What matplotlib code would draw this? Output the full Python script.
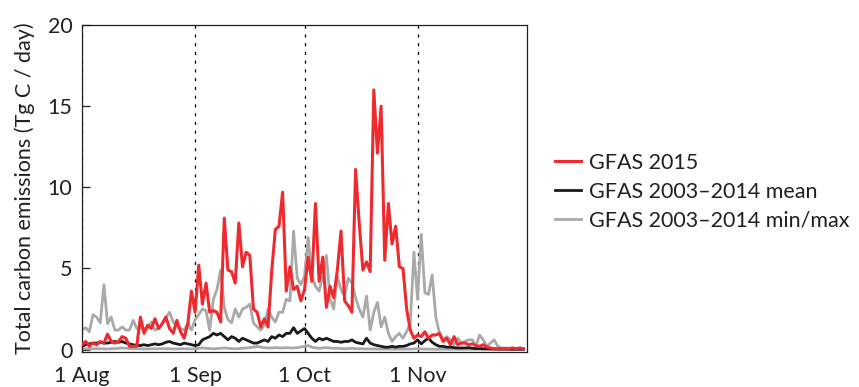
import matplotlib
matplotlib.use("Agg")
import matplotlib.pyplot as plt
import numpy as np

plt.rcParams['font.family'] = ['Lato', 'DejaVu Sans']

# Daily totals from 1 Aug to 30 Nov (day 0 = 1 Aug)
gfas_2015 = [
    0.3, 0.5, 0.2, 0.4, 0.3, 0.5, 0.4, 0.95, 0.5, 0.4,
    0.5, 0.8, 0.7, 0.2, 0.2, 0.2, 2.0, 1.0, 1.5, 1.3,
    1.9, 1.3, 1.6, 2.0, 1.3, 1.0, 1.8, 1.1, 0.7, 1.6,
    3.6, 2.3, 5.2, 2.8, 4.1, 2.3, 2.4, 2.3, 1.7, 8.1,
    4.9, 4.8, 4.1, 7.8, 5.1, 6.0, 5.8, 2.5, 2.3, 1.4,
    1.9, 1.4, 4.8, 7.4, 7.6, 9.7, 3.6, 5.1, 3.7, 3.9,
    3.0, 3.7, 5.7, 4.2, 9.0, 4.2, 5.7, 2.6, 3.9, 3.2,
    4.9, 7.3, 3.0, 2.7, 2.3, 11.1, 7.8, 4.9, 5.4, 4.8,
    16.0, 12.1, 15.0, 5.5, 9.0, 6.5, 7.6, 5.1, 5.0, 2.5,
    1.2, 0.7, 0.9, 0.8, 1.1, 0.7, 0.9, 0.9, 1.0, 0.5,
    0.7, 0.3, 0.8, 0.3, 0.4, 0.4, 0.3, 0.35, 0.25, 0.2,
    0.3, 0.15, 0.1, 0.05, 0.05, 0.05, 0.05, 0.05, 0.1, 0.05,
    0.1, 0.05,
]

gfas_mean = [
    0.2, 0.3, 0.35, 0.4, 0.4, 0.45, 0.4, 0.4, 0.45, 0.5,
    0.45, 0.5, 0.4, 0.35, 0.3, 0.25, 0.25, 0.3, 0.25, 0.3,
    0.35, 0.3, 0.35, 0.45, 0.5, 0.4, 0.35, 0.3, 0.4, 0.35,
    0.3, 0.25, 0.3, 0.6, 0.7, 0.8, 1.0, 0.9, 1.0, 0.8,
    0.6, 0.8, 0.7, 0.5, 0.7, 0.6, 0.5, 0.4, 0.4, 0.5,
    0.6, 0.5, 0.8, 0.7, 0.9, 0.8, 1.0, 1.0, 1.35, 1.0,
    1.15, 1.3, 1.0, 0.7, 0.5, 0.7, 0.6, 0.7, 0.6, 0.5,
    0.5, 0.45, 0.5, 0.5, 0.6, 0.45, 0.4, 0.35, 0.7, 0.4,
    0.3, 0.25, 0.2, 0.15, 0.15, 0.2, 0.15, 0.2, 0.2, 0.25,
    0.35, 0.4, 0.6, 0.35, 0.55, 0.7, 0.45, 0.3, 0.2, 0.2,
    0.15, 0.15, 0.12, 0.1, 0.1, 0.1, 0.12, 0.08, 0.06, 0.06,
    0.05, 0.05, 0.04, 0.04, 0.03, 0.03, 0.03, 0.02, 0.02, 0.02,
    0.02, 0.02,
]

gfas_max = [
    1.2, 1.35, 1.1, 2.15, 2.0, 1.65, 4.0, 1.6, 2.0, 1.2,
    1.2, 1.4, 1.2, 1.2, 1.8, 1.3, 1.35, 1.3, 1.3, 1.7,
    1.2, 1.3, 1.6, 2.0, 2.3, 1.7, 1.4, 1.3, 1.2, 1.6,
    1.2, 1.85, 2.15, 2.5, 2.4, 1.2, 3.1, 3.7, 4.9, 2.6,
    1.85, 1.65, 2.5, 2.0, 2.5, 2.6, 2.8, 1.65, 1.4, 1.2,
    1.5, 2.5, 2.0, 1.7, 2.3, 2.3, 3.1, 3.0, 7.3, 4.4,
    4.0, 4.5, 6.9, 4.6, 3.9, 3.6, 4.5, 5.8, 3.1, 2.5,
    4.5, 3.7, 3.3, 4.4, 4.1, 3.2, 2.5, 2.0, 3.3, 1.2,
    2.3, 2.9, 1.4, 2.0, 1.0, 0.5, 0.8, 1.0, 0.7, 1.1,
    1.65, 6.0, 3.1, 7.1, 3.5, 3.4, 4.6, 2.0, 1.0, 0.6,
    0.8, 0.6, 0.3, 0.7, 0.4, 0.5, 0.6, 0.6, 0.2, 0.9,
    0.6, 0.2, 0.4, 0.6, 0.2, 0.1, 0.1, 0.08, 0.08, 0.05,
    0.05, 0.05,
]

gfas_min = [
    0.05, 0.05, 0.04, 0.05, 0.06, 0.05, 0.05, 0.04, 0.05, 0.06,
    0.08, 0.1, 0.08, 0.06, 0.05, 0.05, 0.05, 0.04, 0.04, 0.05,
    0.05, 0.05, 0.06, 0.05, 0.05, 0.04, 0.04, 0.05, 0.05, 0.05,
    0.04, 0.05, 0.08, 0.1, 0.08, 0.06, 0.05, 0.06, 0.08, 0.1,
    0.08, 0.06, 0.05, 0.06, 0.08, 0.1, 0.12, 0.15, 0.2, 0.15,
    0.12, 0.1, 0.1, 0.12, 0.1, 0.1, 0.12, 0.1, 0.1, 0.12,
    0.15, 0.2, 0.25, 0.15, 0.1, 0.08, 0.1, 0.12, 0.1, 0.08,
    0.08, 0.06, 0.05, 0.06, 0.08, 0.06, 0.05, 0.05, 0.04, 0.04,
    0.04, 0.03, 0.03, 0.03, 0.03, 0.03, 0.03, 0.03, 0.03, 0.03,
    0.03, 0.04, 0.05, 0.04, 0.03, 0.03, 0.02, 0.02, 0.02, 0.02,
    0.02, 0.02, 0.02, 0.02, 0.02, 0.02, 0.02, 0.02, 0.02, 0.02,
    0.02, 0.02, 0.02, 0.02, 0.02, 0.02, 0.02, 0.02, 0.02, 0.02,
    0.02, 0.02,
]

month_starts = [0, 31, 61, 92]
month_labels = ['1 Aug', '1 Sep', '1 Oct', '1 Nov']
y_ticks = [0, 5, 10, 15, 20]

days = np.arange(len(gfas_2015))

fig = plt.figure(figsize=(8.59, 3.87), dpi=100)
ax = fig.add_axes([0.0955, 0.0904, 0.518, 0.845])

red = '#ee2a2f'
black = '#1a1a1a'
grey = '#a9a9a9'
text_col = '#231f20'
lw = 2.0
fs = 15.5

for d in month_starts:
    ax.axvline(d, color='black', lw=0.9, ls=(0, (2.5, 4.5)), zorder=1)

ax.plot(days, gfas_min, color=grey, lw=lw, zorder=2)
ax.plot(days, gfas_max, color=grey, lw=lw, zorder=2,
        label='GFAS 2003–2014 min/max')
ax.plot(days, gfas_mean, color=black, lw=lw, zorder=3,
        label='GFAS 2003–2014 mean')
ax.plot(days, gfas_2015, color=red, lw=2.2, zorder=4, label='GFAS 2015')

ax.set_xlim(0, 122)
ax.set_ylim(-0.15, 20)
ax.set_xticks(month_starts)
ax.set_xticklabels(month_labels)
ax.set_yticks(y_ticks)
ax.tick_params(direction='in', length=6, width=0.9, labelsize=fs, colors=text_col)
ax.tick_params(axis='x', pad=10)
ax.tick_params(axis='y', pad=7)
for s in ax.spines.values():
    s.set_linewidth(0.9)
    s.set_color(text_col)

ax.set_ylabel('Total carbon emissions (Tg C / day)', fontsize=fs,
              color=text_col, labelpad=9)

handles, labels = ax.get_legend_handles_labels()
order = [2, 1, 0]
ax.legend([handles[i] for i in order], [labels[i] for i in order],
          loc='center left', bbox_to_anchor=(1.063, 0.49), frameon=False,
          fontsize=fs, handlelength=1.2, handletextpad=0.4,
          labelspacing=0.42, borderpad=0, borderaxespad=0,
          labelcolor=text_col)

fig.savefig('out.png', dpi=100)
